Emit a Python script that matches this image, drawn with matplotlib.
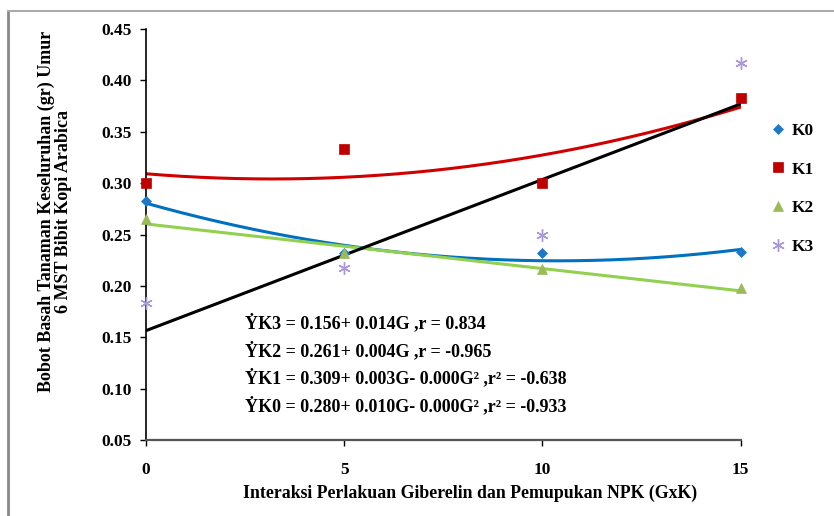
import numpy as np
import matplotlib
matplotlib.use("Agg")
import matplotlib.pyplot as plt
from matplotlib.lines import Line2D

plt.rcParams['font.family'] = ['Liberation Serif', 'DejaVu Serif']
plt.rcParams['font.weight'] = 'bold'

# data
dosis = [0, 5, 10, 15]
k0 = [0.283, 0.232, 0.232, 0.233]
k1 = [0.300, 0.333, 0.300, 0.383]
k2 = [0.265, 0.232, 0.216, 0.198]
k3 = [0.183, 0.217, 0.250, 0.417]

seri = ['K0', 'K1', 'K2', 'K3']
nilai = [k0, k1, k2, k3]
derajat = [2, 2, 1, 1]
warna_titik = ['#1F77C8', '#C00000', '#9BBB59', '#A898D8']
warna_garis = ['#0070C0', '#D00000', '#92D050', '#000000']
penanda = ['D', 's', '^', (6, 2, 0)]
ukuran = [5, 6.5, 7, 9]

persamaan = [
    "\u1E8EK3 = 0.156+ 0.014G ,r = 0.834",
    "\u1E8EK2 = 0.261+ 0.004G ,r = -0.965",
    "\u1E8EK1 = 0.309+ 0.003G- 0.000G\u00b2 ,r\u00b2 = -0.638",
    "\u1E8EK0 = 0.280+ 0.010G- 0.000G\u00b2 ,r\u00b2 = -0.933",
]

fig = plt.figure(figsize=(8.34, 5.16), dpi=100)
ax = fig.add_axes([0.175, 0.147, 0.713, 0.797])

xs = np.linspace(0, 15, 200)
# trend lines first, then markers
for y, d, wg in zip(nilai, derajat, warna_garis):
    koef = np.polyfit(dosis, y, d)
    ax.plot(xs, np.polyval(koef, xs), color=wg, lw=2.2, zorder=2)

for nama, y, wt, m, s in zip(seri, nilai, warna_titik, penanda, ukuran):
    ax.plot(dosis, y, linestyle='none', marker=m, color=wt, markersize=s,
            markeredgewidth=1 if m == (6, 2, 0) else 0.5, zorder=3,
            label=nama, clip_on=False)

ax.set_xlim(0, 15)
ax.set_ylim(0.05, 0.45)
ax.set_xticks(dosis)
ax.set_yticks(np.arange(0.05, 0.451, 0.05))
ax.set_yticklabels(['%.2f' % v for v in np.arange(0.05, 0.451, 0.05)])
ax.tick_params(axis='both', labelsize=12.5, direction='out', length=4, width=1)
ax.tick_params(axis='x', pad=12)
ax.tick_params(axis='y', pad=6)
for t in ax.get_xticklabels() + ax.get_yticklabels():
    t.set_fontweight('bold')
ax.spines['top'].set_visible(False)
ax.spines['right'].set_visible(False)
ax.spines['left'].set_linewidth(1.2)
ax.spines['bottom'].set_linewidth(1.6)
ax.spines['bottom'].set_color('#555555')

fig.text(470 / 834, 1 - 493 / 516,
         'Interaksi Perlakuan Giberelin dan Pemupukan NPK (GxK)',
         fontsize=12.8, fontweight='bold', ha='center', va='center')
fig.text(55 / 834, 1 - 211 / 516,
         'Bobot Basah Tanaman Keseluruhan (gr) Umur\n6 MST Bibit Kopi Arabica',
         fontsize=13, fontweight='bold', ha='center', va='center',
         rotation=90, linespacing=1.05, multialignment='center')

for i, teks in enumerate(persamaan):
    fig.text(245 / 834, 1 - (323 + i * 27.5) / 516, teks, fontsize=13,
             fontweight='bold', va='center', ha='left')

leg = ax.legend(loc='upper left', bbox_to_anchor=(1.025, 0.81), frameon=False,
                labelspacing=1.3, handlelength=0.8, handletextpad=0.4,
                prop={'weight': 'bold', 'size': 12.5})

# outer frame of the original figure
fig.add_artist(Line2D([8 / 834, 8 / 834], [0, 1 - 11 / 516], color='#888888', lw=2))
fig.add_artist(Line2D([8 / 834, 1], [1 - 11 / 516, 1 - 11 / 516], color='#aaaaaa', lw=1.5))

fig.savefig('out.png', dpi=100)
